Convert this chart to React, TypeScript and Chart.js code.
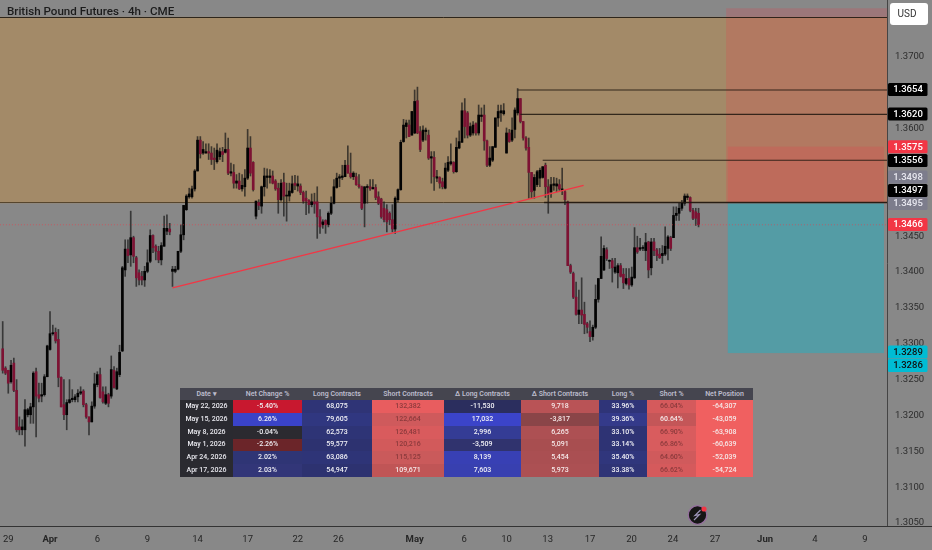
import React, { useEffect, useRef } from "react";
import Chart from "chart.js/auto";

const opens = [
1.3293,1.3266,1.3263,1.3247,1.3273,1.3235,1.3184,1.3180,1.3180,1.3201,
1.3201,1.3212,1.3261,1.3229,1.3227,1.3229,1.3254,1.3292,1.3314,1.3316,
1.3306,1.3253,1.3215,1.3201,1.3218,1.3222,1.3222,1.3226,1.3231,1.3234,
1.3215,1.3198,1.3191,1.3213,1.3243,1.3257,1.3233,1.3217,1.3229,1.3227,
1.3263,1.3237,1.3257,1.3290,1.3403,1.3432,1.3424,1.3448,1.3420,1.3399,
1.3394,1.3389,1.3401,1.3415,1.3451,1.3436,1.3429,1.3417,1.3436,1.3457,
1.3460,1.3401,1.3401,1.3404,1.3429,1.3452,1.3487,1.3505,1.3505,1.3516,
1.3541,1.3584,1.3566,1.3566,1.3568,1.3566,1.3559,1.3554,1.3561,1.3568,
1.3567,1.3571,1.3538,1.3539,1.3524,1.3527,1.3516,1.3519,1.3531,1.3573,
1.3553,1.3478,1.3497,1.3492,1.3519,1.3532,1.3532,1.3534,1.3527,1.3517,
1.3501,1.3525,1.3506,1.3506,1.3511,1.3524,1.3520,1.3520,1.3511,1.3503,
1.3500,1.3494,1.3498,1.3498,1.3477,1.3466,1.3472,1.3466,1.3482,1.3496,
1.3518,1.3531,1.3532,1.3533,1.3549,1.3538,1.3533,1.3533,1.3522,1.3519,
1.3496,1.3518,1.3519,1.3516,1.3518,1.3505,1.3502,1.3489,1.3487,1.3482,
1.3473,1.3460,1.3501,1.3515,1.3582,1.3603,1.3605,1.3591,1.3594,1.3639,
1.3596,1.3584,1.3596,1.3591,1.3559,1.3560,1.3531,1.3532,1.3526,1.3517,
1.3542,1.3551,1.3553,1.3540,1.3573,1.3581,1.3625,1.3622,1.3591,1.3594,
1.3607,1.3594,1.3617,1.3619,1.3583,1.3549,1.3556,1.3574,1.3615,1.3622,
1.3621,1.3566,1.3594,1.3584,1.3599,1.3622,1.3642,1.3610,1.3587,1.3574,
1.3539,1.3514,1.3522,1.3531,1.3532,1.3549,1.3519,1.3512,1.3521,1.3520,
1.3522,1.3514,1.3512,1.3498,1.3409,1.3398,1.3365,1.3341,1.3347,1.3341,
1.3328,1.3317,1.3310,1.3323,1.3362,1.3391,1.3403,1.3431,1.3415,1.3416,
1.3400,1.3399,1.3409,1.3397,1.3384,1.3391,1.3382,1.3392,1.3434,1.3432,
1.3433,1.3430,1.3442,1.3406,1.3442,1.3431,1.3425,1.3423,1.3425,1.3433,
1.3448,1.3448,1.3479,1.3482,1.3489,1.3496,1.3504,1.3504,1.3486,1.3484,1.3482];

const highs = [
1.3331,1.3268,1.3263,1.3277,1.3280,1.3250,1.3198,1.3194,1.3222,1.3210,
1.3217,1.3261,1.3266,1.3245,1.3245,1.3257,1.3298,1.3345,1.3326,1.3322,
1.3320,1.3254,1.3250,1.3222,1.3250,1.3236,1.3229,1.3236,1.3240,1.3236,
1.3217,1.3198,1.3219,1.3259,1.3261,1.3266,1.3240,1.3240,1.3231,1.3283,
1.3268,1.3266,1.3298,1.3408,1.3445,1.3445,1.3485,1.3450,1.3422,1.3403,
1.3401,1.3408,1.3431,1.3459,1.3452,1.3438,1.3436,1.3441,1.3478,1.3480,
1.3468,1.3408,1.3408,1.3429,1.3466,1.3493,1.3508,1.3517,1.3520,1.3543,
1.3589,1.3589,1.3582,1.3579,1.3579,1.3575,1.3573,1.3579,1.3573,1.3574,
1.3594,1.3587,1.3552,1.3550,1.3536,1.3538,1.3536,1.3543,1.3599,1.3589,
1.3554,1.3499,1.3501,1.3520,1.3545,1.3544,1.3543,1.3541,1.3529,1.3524,
1.3529,1.3538,1.3524,1.3524,1.3534,1.3535,1.3534,1.3523,1.3513,1.3513,
1.3501,1.3509,1.3510,1.3519,1.3487,1.3473,1.3473,1.3484,1.3505,1.3529,
1.3538,1.3536,1.3549,1.3556,1.3576,1.3566,1.3540,1.3538,1.3536,1.3520,
1.3519,1.3522,1.3529,1.3529,1.3522,1.3512,1.3503,1.3498,1.3494,1.3484,
1.3494,1.3505,1.3516,1.3584,1.3613,1.3612,1.3612,1.3624,1.3654,1.3658,
1.3603,1.3604,1.3601,1.3598,1.3568,1.3568,1.3542,1.3533,1.3531,1.3552,
1.3561,1.3579,1.3554,1.3587,1.3597,1.3636,1.3642,1.3624,1.3608,1.3610,
1.3608,1.3633,1.3629,1.3633,1.3584,1.3575,1.3575,1.3615,1.3633,1.3633,
1.3635,1.3601,1.3599,1.3615,1.3629,1.3656,1.3642,1.3610,1.3589,1.3587,
1.3539,1.3536,1.3542,1.3545,1.3547,1.3552,1.3529,1.3532,1.3532,1.3531,
1.3529,1.3545,1.3514,1.3499,1.3411,1.3400,1.3386,1.3375,1.3392,1.3358,
1.3330,1.3332,1.3326,1.3382,1.3391,1.3449,1.3437,1.3434,1.3417,1.3419,
1.3419,1.3412,1.3412,1.3405,1.3405,1.3405,1.3407,1.3462,1.3450,1.3447,
1.3437,1.3454,1.3443,1.3447,1.3447,1.3433,1.3433,1.3437,1.3463,1.3451,
1.3450,1.3491,1.3491,1.3496,1.3500,1.3509,1.3509,1.3505,1.3489,1.3489,1.3489];

const lows = [
1.3259,1.3257,1.3231,1.3245,1.3233,1.3177,1.3173,1.3173,1.3157,1.3198,
1.3189,1.3189,1.3170,1.3219,1.3219,1.3227,1.3254,1.3291,1.3312,1.3301,
1.3240,1.3212,1.3194,1.3180,1.3217,1.3219,1.3219,1.3219,1.3229,1.3212,
1.3196,1.3173,1.3191,1.3210,1.3240,1.3224,1.3217,1.3215,1.3212,1.3224,
1.3238,1.3236,1.3254,1.3289,1.3394,1.3413,1.3408,1.3413,1.3380,1.3382,
1.3382,1.3380,1.3399,1.3413,1.3427,1.3417,1.3413,1.3410,1.3436,1.3452,
1.3452,1.3380,1.3399,1.3403,1.3427,1.3445,1.3486,1.3503,1.3503,1.3513,
1.3541,1.3559,1.3564,1.3566,1.3557,1.3550,1.3543,1.3552,1.3557,1.3554,
1.3566,1.3536,1.3534,1.3517,1.3517,1.3515,1.3513,1.3506,1.3529,1.3534,
1.3513,1.3474,1.3487,1.3482,1.3506,1.3517,1.3524,1.3523,1.3514,1.3482,
1.3499,1.3478,1.3471,1.3499,1.3510,1.3515,1.3513,1.3508,1.3496,1.3480,
1.3482,1.3491,1.3482,1.3447,1.3454,1.3461,1.3454,1.3463,1.3480,1.3495,
1.3517,1.3519,1.3529,1.3533,1.3538,1.3531,1.3529,1.3521,1.3517,1.3487,
1.3463,1.3496,1.3514,1.3516,1.3501,1.3494,1.3475,1.3470,1.3456,1.3466,
1.3456,1.3454,1.3498,1.3514,1.3581,1.3587,1.3589,1.3591,1.3593,1.3593,
1.3568,1.3582,1.3584,1.3557,1.3524,1.3514,1.3526,1.3517,1.3516,1.3516,
1.3540,1.3549,1.3538,1.3539,1.3572,1.3581,1.3587,1.3587,1.3589,1.3591,
1.3591,1.3591,1.3610,1.3570,1.3547,1.3547,1.3554,1.3574,1.3603,1.3610,
1.3619,1.3566,1.3581,1.3582,1.3587,1.3619,1.3608,1.3584,1.3570,1.3503,
1.3503,1.3503,1.3519,1.3519,1.3531,1.3504,1.3482,1.3504,1.3514,1.3512,
1.3514,1.3508,1.3494,1.3409,1.3398,1.3363,1.3340,1.3328,1.3328,1.3314,
1.3315,1.3303,1.3305,1.3321,1.3358,1.3391,1.3402,1.3416,1.3405,1.3386,
1.3398,1.3378,1.3393,1.3377,1.3382,1.3376,1.3380,1.3391,1.3426,1.3430,
1.3430,1.3416,1.3392,1.3396,1.3423,1.3416,1.3419,1.3412,1.3423,1.3417,
1.3430,1.3448,1.3472,1.3472,1.3486,1.3493,1.3501,1.3484,1.3473,1.3465,1.3463];

const closes = [
1.3263,1.3259,1.3245,1.3270,1.3235,1.3180,1.3180,1.3184,1.3208,1.3208,
1.3212,1.3259,1.3227,1.3224,1.3229,1.3254,1.3297,1.3314,1.3315,1.3304,
1.3253,1.3212,1.3201,1.3218,1.3222,1.3224,1.3226,1.3231,1.3233,1.3215,
1.3198,1.3191,1.3213,1.3244,1.3257,1.3225,1.3219,1.3229,1.3217,1.3264,
1.3239,1.3261,1.3288,1.3406,1.3432,1.3423,1.3448,1.3422,1.3392,1.3389,
1.3389,1.3401,1.3413,1.3451,1.3434,1.3429,1.3417,1.3437,1.3461,1.3461,
1.3456,1.3404,1.3404,1.3429,1.3452,1.3493,1.3506,1.3509,1.3516,1.3541,
1.3584,1.3565,1.3571,1.3568,1.3566,1.3557,1.3557,1.3570,1.3568,1.3564,
1.3571,1.3538,1.3540,1.3524,1.3527,1.3516,1.3521,1.3531,1.3573,1.3538,
1.3515,1.3499,1.3493,1.3519,1.3534,1.3534,1.3534,1.3524,1.3516,1.3501,
1.3524,1.3506,1.3507,1.3513,1.3523,1.3521,1.3523,1.3511,1.3499,1.3499,
1.3494,1.3498,1.3495,1.3477,1.3463,1.3470,1.3466,1.3482,1.3496,1.3519,
1.3531,1.3533,1.3534,1.3549,1.3538,1.3533,1.3538,1.3522,1.3519,1.3489,
1.3519,1.3519,1.3516,1.3518,1.3504,1.3496,1.3477,1.3473,1.3470,1.3473,
1.3460,1.3503,1.3515,1.3581,1.3605,1.3608,1.3589,1.3624,1.3638,1.3594,
1.3571,1.3598,1.3598,1.3559,1.3561,1.3533,1.3533,1.3524,1.3519,1.3545,
1.3553,1.3554,1.3540,1.3574,1.3582,1.3625,1.3603,1.3591,1.3603,1.3605,
1.3594,1.3619,1.3619,1.3583,1.3549,1.3559,1.3575,1.3615,1.3624,1.3625,
1.3625,1.3594,1.3582,1.3598,1.3626,1.3642,1.3610,1.3587,1.3573,1.3539,
1.3512,1.3532,1.3540,1.3542,1.3547,1.3519,1.3509,1.3522,1.3523,1.3523,
1.3516,1.3516,1.3501,1.3409,1.3400,1.3365,1.3341,1.3347,1.3340,1.3327,
1.3323,1.3310,1.3323,1.3362,1.3391,1.3422,1.3433,1.3419,1.3416,1.3406,
1.3407,1.3409,1.3394,1.3385,1.3391,1.3382,1.3393,1.3434,1.3428,1.3434,
1.3434,1.3441,1.3403,1.3442,1.3430,1.3423,1.3420,1.3426,1.3436,1.3449,
1.3433,1.3479,1.3482,1.3489,1.3496,1.3506,1.3506,1.3486,1.3475,1.3475,1.3466];

// x tick positions are bar slots (six 4h bars per trading day)
const xTickSlots = [2, 17, 34, 52, 70, 88, 106, 120.6, 148, 165.8, 181, 195.8, 211, 225.9, 240.8, 255.9, 273.9, 291.8, 309.8];
const xTickLabels = ["29", "Apr", "6", "9", "14", "17", "22", "26", "May", "6", "10", "13", "17", "20", "24", "27", "Jun", "4", "9"];
const monthLabels = ["Apr", "May", "Jun"];
const yTickValues = [1.37, 1.365, 1.36, 1.355, 1.35, 1.345, 1.34, 1.335, 1.33, 1.325, 1.32, 1.315, 1.31, 1.305];

const priceLevels = [1.3654, 1.362, 1.3556, 1.3497];
const levelStarts = [185, 186, 194, 194.5];
const trendSlots = [61, 208.7];
const trendPrices = [1.3378, 1.3521];
const lastPrice = 1.3466;

const tagTexts = ["1.3654", "1.3620", "1.3575", "1.3556", "1.3498", "1.3497", "1.3495", "1.3466", "1.3289", "1.3286"];
const tableHeaders = ["Date ▾", "Net Change %", "Long Contracts", "Short Contracts", "Δ Long Contracts", "Δ Short Contracts", "Long %", "Short %", "Net Position"];
const dates = ["May 22, 2026", "May 15, 2026", "May 8, 2026", "May 1, 2026", "Apr 24, 2026", "Apr 17, 2026"];
const netChange = ["-5.40%", "6.26%", "-0.04%", "-2.26%", "2.02%", "2.03%"];
const longContracts = ["68,075", "79,605", "62,573", "59,577", "63,086", "54,947"];
const shortContracts = ["132,382", "122,664", "126,481", "120,216", "115,125", "109,671"];
const deltaLong = ["-11,530", "17,032", "2,996", "-3,509", "8,139", "7,603"];
const deltaShort = ["9,718", "-3,817", "6,265", "5,091", "5,454", "5,973"];
const longPct = ["33.96%", "39.36%", "33.10%", "33.14%", "35.40%", "33.38%"];
const shortPct = ["66.04%", "60.64%", "66.90%", "66.86%", "64.60%", "66.62%"];
const netPosition = ["-64,307", "-43,059", "-63,908", "-60,639", "-52,039", "-54,724"];

// ---- styles ----
const FONT = "Roboto, 'Noto Sans', sans-serif";
const BG = "#888888";
const colWidths = [53, 69, 70, 72, 77, 78, 48, 49, 57];
const rowHeight = 12.85;
const dateBg = "#2a2a30";
const cellBg = [
  ["#c8182f", "#3a43c8", "#2b2a30", "#6b2529", "#2f3575", "#323678"],
  ["#2f3476", "#303780", "#2e3476", "#2d3270", "#2e3477", "#2d3270"],
  ["#e85d5f", "#cf5a5c", "#d95b5d", "#d25a5b", "#ca5a5b", "#c05556"],
  ["#2b2e5e", "#3b44c9", "#343c95", "#30336e", "#3840b4", "#3840b0"],
  ["#b95356", "#8a4548", "#ad5053", "#a84e50", "#aa4f52", "#ac5053"],
  ["#2f3478", "#343a8a", "#2e3374", "#2e3374", "#30367c", "#2f3476"],
  ["#d55a5c", "#c45658", "#d95c5e", "#d85c5e", "#d05a5c", "#d55a5c"],
  ["#f06060", "#f06060", "#f06060", "#f06060", "#f06060", "#f06060"],
];
const cellFg = [
  Array(6).fill("#f0f0f5"), Array(6).fill("#f0f0f5"),
  ["#8b3a3c", "#8b3a3c", "#8b3a3c", "#8b3a3c", "#8b3a3c", "#f5e8e8"],
  Array(6).fill("#f0f0f5"), Array(6).fill("#f5e8e8"), Array(6).fill("#f0f0f5"),
  ["#8b3a3c", "#f5e8e8", "#8b3a3c", "#8b3a3c", "#8b3a3c", "#8b3a3c"],
  Array(6).fill("#f5e8e8"),
];
const tagStyle = [
  { y: 89.5, bg: "#000", fg: "#fff" }, { y: 114, bg: "#000", fg: "#fff" }, { y: 146.8, bg: "#f23645", fg: "#fff" },
  { y: 160.5, bg: "#000", fg: "#fff" }, { y: 177, bg: "#7d7d8c", fg: "#e8e8f0" }, { y: 190.5, bg: "#000", fg: "#fff" },
  { y: 203.5, bg: "#7d7d8c", fg: "#e8e8f0" }, { y: 224.5, bg: "#f23645", fg: "#fff" },
  { y: 352, bg: "#00bcd4", fg: "#111" }, { y: 365.5, bg: "#00bcd4", fg: "#111" },
];
// zones: [slotFrom, slotTo, priceTop, priceBottom, colour]
const zones: [number, number, number, number, string][] = [
  [-1, 318, 1.3756, 1.3496, "rgb(163,138,104)"],
  [259.9, 318, 1.3768, 1.3496, "rgba(242,54,69,0.2)"],
  [260.5, 316.6, 1.3575, 1.3496, "rgba(242,54,69,0.2)"],
  [260.5, 316.6, 1.3496, 1.3287, "rgba(0,188,212,0.38)"],
];

const overlay = {
  id: "overlay",
  beforeDraw(c: any) {
    const g = c.ctx;
    g.save();
    g.fillStyle = BG;
    g.fillRect(0, 0, c.width, c.height);
    g.restore();
  },
  beforeDatasetsDraw(c: any) {
    const g = c.ctx, x = c.scales.x, y = c.scales.y, a = c.chartArea;
    g.save();
    g.beginPath();
    g.rect(a.left, 0, a.right - a.left, a.bottom);
    g.clip();
    for (const [x0, x1, p0, p1, col] of zones) {
      g.fillStyle = col;
      const px0 = x.getPixelForValue(x0), px1 = x.getPixelForValue(x1);
      const py0 = y.getPixelForValue(p0), py1 = y.getPixelForValue(p1);
      g.fillRect(px0, py0, px1 - px0, py1 - py0);
    }
    // the tan zone's top and bottom borders
    g.lineWidth = 1;
    g.strokeStyle = "rgba(25,20,15,0.85)";
    g.beginPath();
    const t = Math.round(y.getPixelForValue(zones[0][2])) + 0.5;
    g.moveTo(a.left, t);
    g.lineTo(a.right, t);
    g.stroke();
    g.strokeStyle = "rgba(60,45,25,0.75)";
    g.beginPath();
    const b = Math.round(y.getPixelForValue(zones[0][3])) - 0.5;
    g.moveTo(a.left, b);
    g.lineTo(a.right, b);
    g.stroke();
    g.restore();
  },
  afterDraw(c: any) {
    const g = c.ctx, a = c.chartArea;
    g.save();
    // x axis line runs on under the price scale
    g.strokeStyle = "#333";
    g.lineWidth = 1;
    g.beginPath();
    g.moveTo(a.right, a.bottom + 0.5);
    g.lineTo(932, a.bottom + 0.5);
    g.stroke();
    // title
    g.fillStyle = "#1c1c1c";
    g.font = `500 11.6px ${FONT}`;
    g.textAlign = "left";
    g.textBaseline = "middle";
    g.fillText("British Pound Futures · 4h · CME", 7, 12.5);
    // price tags
    g.textAlign = "center";
    g.font = `500 9.5px ${FONT}`;
    tagTexts.forEach((t, i) => {
      const s = tagStyle[i];
      g.fillStyle = s.bg;
      g.beginPath();
      g.roundRect(888, s.y - 6.5, 39.5, 13, 1.5);
      g.fill();
      g.fillStyle = s.fg;
      g.fillText(t, 908, s.y + 0.5);
    });
    // currency button
    g.fillStyle = "#fff";
    g.beginPath();
    g.roundRect(890, 3, 38, 22, 3);
    g.fill();
    g.fillStyle = "#333";
    g.font = `400 10px ${FONT}`;
    g.fillText("USD", 907, 14);
    // badge
    g.fillStyle = "#151515";
    g.strokeStyle = "#96709f";
    g.lineWidth = 1.3;
    g.beginPath();
    g.arc(697.5, 515, 9.3, 0, Math.PI * 2);
    g.fill();
    g.stroke();
    g.strokeStyle = "#9c93b8";
    g.lineWidth = 1.2;
    g.beginPath();
    g.moveTo(700.5, 510);
    g.lineTo(695, 515.5);
    g.lineTo(699.5, 514.5);
    g.lineTo(694, 520);
    g.stroke();
    g.fillStyle = "#f23645";
    g.beginPath();
    g.arc(704, 509, 2.6, 0, Math.PI * 2);
    g.fill();
    g.restore();
  },
};

export default function App() {
  const ref = useRef<HTMLCanvasElement>(null);
  useEffect(() => {
    document.body.style.margin = "0";
    const slots = opens.map((_, i) => i);
    const UP = "#030303";
    const DOWN = "#7d1233";
    const lineDs = (data: any[], color: string, width: number, dash: number[] = []) => ({
      type: "line", data, borderColor: color, borderWidth: width, borderDash: dash,
      pointRadius: 0, order: 1, tension: 0,
    });
    const chart = new Chart(ref.current as any, {
      type: "bar",
      data: {
        datasets: [
          ...priceLevels.map((p, i) => lineDs([{ x: levelStarts[i], y: p }, { x: 318, y: p }], "rgba(30,22,15,0.85)", i === 3 ? 1.4 : 1.1)),
          lineDs([{ x: -1, y: lastPrice }, { x: 318, y: lastPrice }], "rgba(242,54,69,0.55)", 1, [1, 2]),
          lineDs(trendSlots.map((s, i) => ({ x: s, y: trendPrices[i] })), "#f23645", 1.4),
          {
            type: "bar",
            data: slots.map((i) => ({ x: i, y: [opens[i], closes[i]] })),
            backgroundColor: slots.map((i) => (closes[i] >= opens[i] ? UP : DOWN)),
            barThickness: 2, minBarLength: 1, grouped: false, order: 2,
          },
          {
            type: "bar",
            data: slots.map((i) => ({ x: i, y: [lows[i], highs[i]] })),
            backgroundColor: "rgba(25,25,25,0.72)",
            barThickness: 1, grouped: false, order: 3,
          },
        ] as any,
      },
      options: {
        animation: false, responsive: false, devicePixelRatio: 1,
        layout: { padding: 0 },
        plugins: { legend: { display: false }, tooltip: { enabled: false } },
        scales: {
          x: {
            type: "linear", offset: false, min: -0.97, max: 317.7,
            grid: { display: false, drawTicks: false },
            border: { display: true, color: "#333" },
            afterBuildTicks: (s: any) => { s.ticks = xTickSlots.map((v) => ({ value: v })); },
            afterFit: (s: any) => { s.height = 24; s.paddingLeft = 0; s.paddingRight = 0; },
            ticks: {
              autoSkip: false, maxRotation: 0, padding: 7.5, color: "#262626",
              callback: (v: any) => xTickLabels[xTickSlots.indexOf(v)],
              font: (ctx: any) => ({
                family: FONT, size: 9.5,
                weight: monthLabels.includes(xTickLabels[xTickSlots.indexOf(ctx.tick?.value)]) ? "700" : "400",
              }),
            },
          },
          y: {
            position: "right", min: 1.30458, max: 1.37795,
            grid: { display: false, drawTicks: false },
            border: { display: true, color: "#444" },
            afterBuildTicks: (s: any) => { s.ticks = yTickValues.map((v) => ({ value: v })); },
            afterFit: (s: any) => { s.width = 45; s.paddingTop = 0; s.paddingBottom = 0; },
            ticks: {
              autoSkip: false, padding: 8, color: "#2c2c2c",
              callback: (v: any) => Number(v).toFixed(4),
              font: { family: FONT, size: 9.5 },
            },
          },
        },
      } as any,
      plugins: [overlay],
    } as any);
    return () => chart.destroy();
  }, []);

  const columns = [netChange, longContracts, shortContracts, deltaLong, deltaShort, longPct, shortPct, netPosition];
  const base: React.CSSProperties = { padding: 0, textAlign: "center", overflow: "hidden", whiteSpace: "nowrap" };
  return (
    <div style={{ position: "fixed", left: 0, top: 0, width: 932, height: 550, overflow: "hidden" }}>
      <canvas ref={ref} width={932} height={550} style={{ display: "block", width: 932, height: 550 }} />
      <table style={{ position: "absolute", left: 180, top: 388, width: 573, borderCollapse: "collapse", tableLayout: "fixed", fontFamily: FONT, fontSize: 7, fontWeight: 500, lineHeight: 1 }}>
        <colgroup>{colWidths.map((w, i) => <col key={i} style={{ width: w }} />)}</colgroup>
        <thead>
          <tr style={{ height: 12 }}>
            {tableHeaders.map((h) => <th key={h} style={{ ...base, background: "#45454f", color: "#bcbccc", fontWeight: 600 }}>{h}</th>)}
          </tr>
        </thead>
        <tbody>
          {dates.map((d, r) => (
            <tr key={d} style={{ height: rowHeight }}>
              <td style={{ ...base, background: dateBg, color: "#e8e8ee" }}>{d}</td>
              {columns.map((col, c) => (
                <td key={c} style={{ ...base, background: cellBg[c][r], color: cellFg[c][r] }}>{col[r]}</td>
              ))}
            </tr>
          ))}
        </tbody>
      </table>
    </div>
  );
}
